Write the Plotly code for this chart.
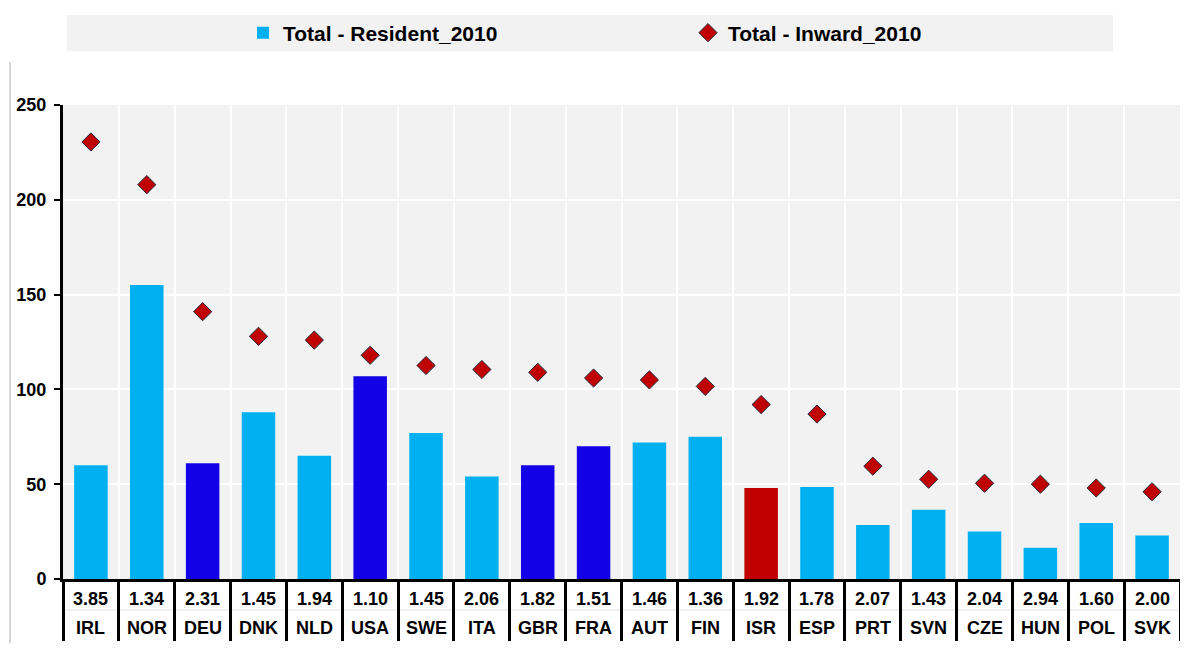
import plotly.graph_objects as go

countries = ["IRL", "NOR", "DEU", "DNK", "NLD", "USA", "SWE", "ITA", "GBR", "FRA",
             "AUT", "FIN", "ISR", "ESP", "PRT", "SVN", "CZE", "HUN", "POL", "SVK"]
ratios = ["3.85", "1.34", "2.31", "1.45", "1.94", "1.10", "1.45", "2.06", "1.82", "1.51",
          "1.46", "1.36", "1.92", "1.78", "2.07", "1.43", "2.04", "2.94", "1.60", "2.00"]
resident_2010 = [60, 155, 61, 88, 65, 107, 77, 54, 60, 70,
                 72, 75, 48, 48.5, 28.5, 36.5, 25, 16.5, 29.5, 23]
inward_2010 = [230.5, 208, 141, 128, 126, 118, 112.6, 110.5, 109, 106,
               105, 101.6, 92, 87, 59.5, 52.6, 50.5, 50, 48, 46]
bar_groups = ["base", "base", "dark", "base", "base", "dark", "base", "base", "dark", "dark",
              "base", "base", "isr", "base", "base", "base", "base", "base", "base", "base"]

palette = {"base": "#00B0F0", "dark": "#1400E6", "isr": "#C00000"}
bar_colors = [palette[g] for g in bar_groups]

fig = go.Figure()
fig.add_trace(go.Bar(
    x=countries, y=resident_2010, name="Total - Resident_2010",
    marker=dict(color=bar_colors, line=dict(width=0)),
    width=0.6,
))
fig.add_trace(go.Scatter(
    x=countries, y=inward_2010, name="Total - Inward_2010", mode="markers",
    marker=dict(symbol="diamond", size=14, color="#C00000",
                line=dict(color="#1F2A44", width=1)),
))

# legend background band
fig.add_shape(type="rect", xref="paper", yref="paper",
              x0=(67 - 63) / 1117, x1=(1113 - 63) / 1117,
              y0=(579 - 51) / 474, y1=(579 - 15) / 474,
              fillcolor="#F2F2F2", line=dict(width=0), layer="below")
# left frame line
fig.add_shape(type="line", xref="paper", yref="paper",
              x0=(10 - 63) / 1117, x1=(10 - 63) / 1117,
              y0=(579 - 645) / 474, y1=(579 - 62) / 474,
              line=dict(color="#C8C8C8", width=1.5))
# faint separator between table rows
fig.add_shape(type="line", xref="paper", yref="paper",
              x0=0, x1=1,
              y0=(579 - 610) / 474, y1=(579 - 610) / 474,
              line=dict(color="#E4E4E4", width=1), layer="below")

# table text under axis
for c, r in zip(countries, ratios):
    fig.add_annotation(x=c, y=0, xref="x", yref="paper", yanchor="middle",
                       yshift=-20, text=r, showarrow=False,
                       font=dict(family="Arial", size=18, color="black", weight="bold"))
    fig.add_annotation(x=c, y=0, xref="x", yref="paper", yanchor="middle",
                       yshift=-49, text=c, showarrow=False,
                       font=dict(family="Arial", size=18, color="black", weight="bold"))

fig.update_layout(
    width=1176, height=635,
    margin=dict(l=55, r=4, t=97, b=64, autoexpand=False),
    paper_bgcolor="white", plot_bgcolor="#F2F2F2",
    showlegend=True,
    legend=dict(orientation="h", x=(243 - 63) / 1117, xanchor="left", y=(579 - 33) / 474,
                yanchor="middle", bgcolor="rgba(0,0,0,0)",
                entrywidth=400, entrywidthmode="pixels",
                font=dict(family="Arial", size=21, color="black", weight="bold")),
    xaxis=dict(type="category", range=[-0.5, 19.5], tickson="boundaries",
               ticks="outside", ticklen=59, tickwidth=3, tickcolor="black",
               showticklabels=False, showline=True, linecolor="black", linewidth=3,
               showgrid=True, gridcolor="white", gridwidth=2, fixedrange=True),
    yaxis=dict(range=[0, 250], tickvals=[0, 50, 100, 150, 200, 250],
               ticks="outside", ticklen=6, tickwidth=2, tickcolor="black",
               ticklabelstandoff=4,
               showline=True, linecolor="black", linewidth=3,
               showgrid=True, gridcolor="white", gridwidth=1.5, zeroline=False,
               tickfont=dict(family="Arial", size=18, color="black", weight="bold")),
)

fig.write_html("out.html")
